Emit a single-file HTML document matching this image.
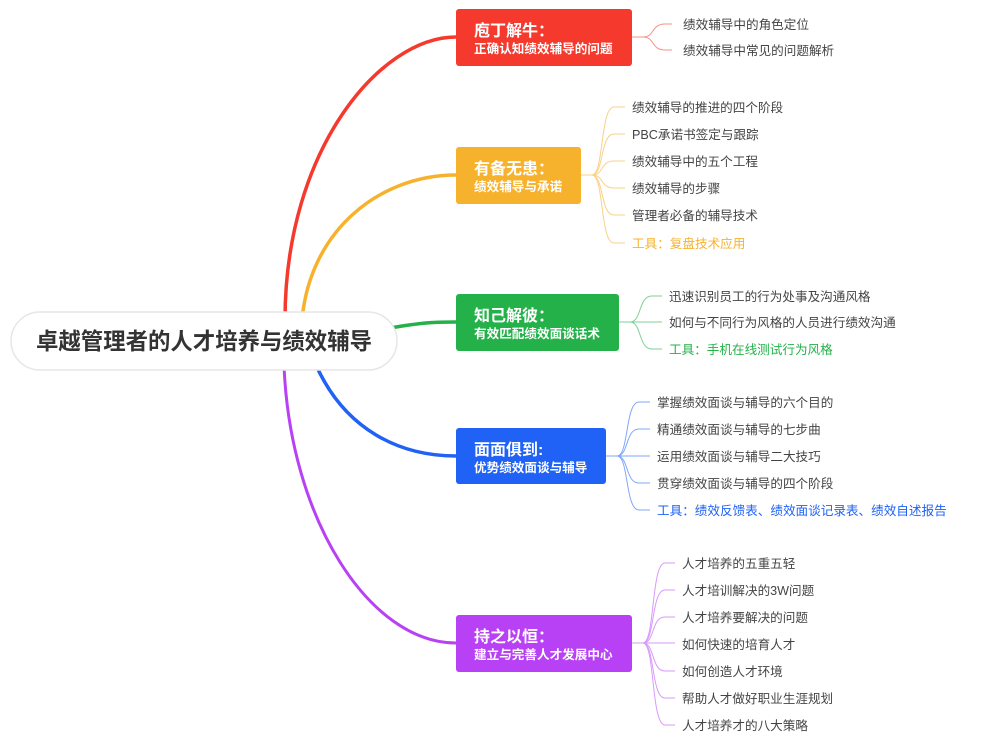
<!DOCTYPE html>
<html><head><meta charset="utf-8"><style>
body{margin:0;background:#fff}
svg{display:block}
text{font-family:"Liberation Sans","Noto Sans CJK SC",sans-serif}
.c{font-size:12.6px;fill:#444}
.t{font-size:16px;font-weight:bold;fill:#fff}
.s{font-size:12.6px;font-weight:bold;fill:#fff}
</style></head><body>
<svg width="1006" height="737" viewBox="0 0 1006 737">
<g fill="none" stroke-linecap="round">
<path d="M285 320C285 150 380 37 456 37" stroke="#f5392c" stroke-width="3.5"/>
<path d="M302 320C310 230 380 175 456 175" stroke="#f6b22c" stroke-width="3.5"/>
<path d="M390 328C420 323 430 322 456 322" stroke="#25b14a" stroke-width="3.5"/>
<path d="M316 365C345 430 400 456 456 456" stroke="#1f62f5" stroke-width="3.5"/>
<path d="M284 365C290 520 370 643 456 643" stroke="#b841f5" stroke-width="3"/>
</g>
<rect x="11" y="312" width="386" height="58" rx="29" fill="#fff" stroke="#e6e6e6" stroke-width="1.5"/>
<text x="36" y="349" textLength="336" lengthAdjust="spacingAndGlyphs" style="font-size:23px;font-weight:bold;fill:#333">卓越管理者的人才培养与绩效辅导</text>

<g fill="none" stroke-width="1">
<g stroke="#f7928a">
<path d="M632 37H643C655 37 651 24 665 24H672"/><path d="M632 37H643C655 37 651 50 665 50H672"/></g>
<g stroke="#f9d185">
<path d="M581 175H592C604 175 600 107 614 107H625"/><path d="M581 175H592C604 175 600 134 614 134H625"/><path d="M581 175H592C604 175 600 161 614 161H625"/><path d="M581 175H592C604 175 600 188 614 188H625"/><path d="M581 175H592C604 175 600 215 614 215H625"/><path d="M581 175H592C604 175 600 243 614 243H625"/></g>
<g stroke="#7fd096">
<path d="M619 322H630C642 322 638 296 652 296H662"/><path d="M619 322H662"/><path d="M619 322H630C642 322 638 349 652 349H662"/></g>
<g stroke="#82a7f9">
<path d="M606 456H617C629 456 625 402 639 402H650"/><path d="M606 456H617C629 456 625 429 639 429H650"/><path d="M606 456H650"/><path d="M606 456H617C629 456 625 483 639 483H650"/><path d="M606 456H617C629 456 625 510 639 510H650"/></g>
<g stroke="#d89af9">
<path d="M632 643H643C655 643 651 563 665 563H675"/><path d="M632 643H643C655 643 651 590 665 590H675"/><path d="M632 643H643C655 643 651 617 665 617H675"/><path d="M632 643H675"/><path d="M632 643H643C655 643 651 671 665 671H675"/><path d="M632 643H643C655 643 651 698 665 698H675"/><path d="M632 643H643C655 643 651 725 665 725H675"/></g>
</g>

<rect x="456" y="9" width="176" height="57" rx="3" fill="#f5392c"/>
<text class="t" x="474" y="36">庖丁解牛：</text><text class="s" x="474" y="53">正确认知绩效辅导的问题</text>
<rect x="456" y="147" width="125" height="57" rx="3" fill="#f6b22c"/>
<text class="t" x="474" y="174">有备无患：</text><text class="s" x="474" y="191">绩效辅导与承诺</text>
<rect x="456" y="294" width="163" height="57" rx="3" fill="#25b14a"/>
<text class="t" x="474" y="321">知己解彼：</text><text class="s" x="474" y="338">有效匹配绩效面谈话术</text>
<rect x="456" y="428" width="150" height="56" rx="3" fill="#1f62f5"/>
<text class="t" x="474" y="455">面面俱到:</text><text class="s" x="474" y="472">优势绩效面谈与辅导</text>
<rect x="456" y="615" width="176" height="57" rx="3" fill="#b841f5"/>
<text class="t" x="474" y="642">持之以恒：</text><text class="s" x="474" y="659">建立与完善人才发展中心</text>

<text class="c" x="683" y="29">绩效辅导中的角色定位</text>
<text class="c" x="683" y="55">绩效辅导中常见的问题解析</text>

<text class="c" x="632" y="112">绩效辅导的推进的四个阶段</text>
<text class="c" x="632" y="139">PBC承诺书签定与跟踪</text>
<text class="c" x="632" y="166">绩效辅导中的五个工程</text>
<text class="c" x="632" y="193">绩效辅导的步骤</text>
<text class="c" x="632" y="220">管理者必备的辅导技术</text>
<text class="c" x="632" y="248" style="fill:#f6b22c">工具：复盘技术应用</text>

<text class="c" x="669" y="301">迅速识别员工的行为处事及沟通风格</text>
<text class="c" x="669" y="327">如何与不同行为风格的人员进行绩效沟通</text>
<text class="c" x="669" y="354" style="fill:#25b14a">工具：手机在线测试行为风格</text>

<text class="c" x="657" y="407">掌握绩效面谈与辅导的六个目的</text>
<text class="c" x="657" y="434">精通绩效面谈与辅导的七步曲</text>
<text class="c" x="657" y="461">运用绩效面谈与辅导二大技巧</text>
<text class="c" x="657" y="488">贯穿绩效面谈与辅导的四个阶段</text>
<text class="c" x="657" y="515" style="fill:#1f62f5">工具：绩效反馈表、绩效面谈记录表、绩效自述报告</text>

<text class="c" x="682" y="568">人才培养的五重五轻</text>
<text class="c" x="682" y="595">人才培训解决的3W问题</text>
<text class="c" x="682" y="622">人才培养要解决的问题</text>
<text class="c" x="682" y="649">如何快速的培育人才</text>
<text class="c" x="682" y="676">如何创造人才环境</text>
<text class="c" x="682" y="703">帮助人才做好职业生涯规划</text>
<text class="c" x="682" y="730">人才培养才的八大策略</text>
</svg>
</body></html>
